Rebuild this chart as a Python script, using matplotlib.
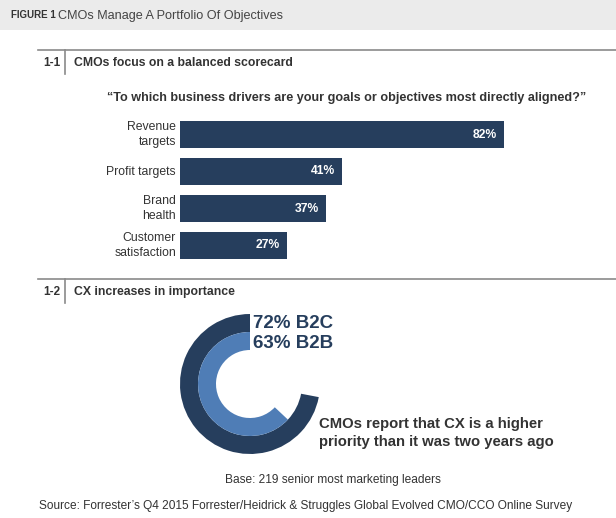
import matplotlib.pyplot as plt

plt.rcParams['font.family'] = ['Liberation Sans', 'DejaVu Sans']

# data
categories = ['Revenue\ntargets', 'Profit targets', 'Brand\nhealth', 'Customer\nsatisfaction']
values = [82, 41, 37, 27]
cx_labels = ['B2C', 'B2B']
cx_values = [72, 63]

NAVY = '#263e5d'
LIGHT = '#4f7db6'
TEXT = '#333333'

W, H = 616, 518
fig = plt.figure(figsize=(W / 100, H / 100), dpi=100)


def px_axes(left, top, width, height):
    return fig.add_axes([left / W, 1 - (top + height) / H, width / W, height / H])


# background axes in pixel coords for text and rules
bg = fig.add_axes([0, 0, 1, 1])
bg.set_xlim(0, W)
bg.set_ylim(H, 0)
bg.axis('off')

bg.add_patch(plt.Rectangle((0, 0), W, 30, color='#ebebeb', lw=0))
bg.text(11, 15.5, 'FIGURE 1', fontsize=7.0, fontweight='bold', color=TEXT, va='center')
bg.text(58, 15.5, 'CMOs Manage A Portfolio Of Objectives', fontsize=9.1, color='#444444', va='center')


def section(y, num, title):
    bg.plot([38, W], [y, y], color='#8a8a8a', lw=1.2)
    bg.plot([65, 65], [y, y + 24], color='#8a8a8a', lw=1.2)
    bg.text(60, y + 13, num, fontsize=8.5, fontweight='bold', color=TEXT, ha='right', va='center')
    bg.text(74, y + 13, title, fontsize=8.8, fontweight='bold', color=TEXT, va='center')


section(50, '1-1', 'CMOs focus on a balanced scorecard')
bg.text(107, 98, '\u201cTo which business drivers are your goals or objectives most directly aligned?\u201d',
        fontsize=9.1, fontweight='bold', color=TEXT, va='center')

section(279, '1-2', 'CX increases in importance')

# bar chart
ax = px_axes(180, 116, 395, 148)
y = range(len(categories))
ax.barh(y, values, height=0.73, color=NAVY)
ax.set_xlim(0, 100)
ax.set_ylim(len(categories) - 0.5, -0.5)
ax.axis('off')
for i, (c, v) in enumerate(zip(categories, values)):
    ax.text(-1.0, i, c, ha='right', va='center', fontsize=8.8, color=TEXT, linespacing=1.3)
    ax.text(v - 1.8, i, f'{v}%', ha='right', va='center', fontsize=8.7,
            fontweight='bold', color='white')

# donut
dx = px_axes(180, 314, 140, 140)
dx.pie([cx_values[0], 100 - cx_values[0]], radius=1, startangle=90, counterclock=True,
       colors=[NAVY, 'none'], wedgeprops=dict(width=18 / 70, lw=0))
dx.pie([cx_values[1], 100 - cx_values[1]], radius=52 / 70, startangle=90, counterclock=True,
       colors=[LIGHT, 'none'], wedgeprops=dict(width=18 / 70, lw=0))
dx.set_xlim(-1, 1)
dx.set_ylim(-1, 1)
dx.set_aspect('equal')
dx.axis('off')

bg.text(253, 323, f'{cx_values[0]}% {cx_labels[0]}', fontsize=13.5, fontweight='bold',
        color=NAVY, va='center')
bg.text(253, 343, f'{cx_values[1]}% {cx_labels[1]}', fontsize=13.5, fontweight='bold',
        color=NAVY, va='center')
bg.text(319, 433, 'CMOs report that CX is a higher\npriority than it was two years ago',
        fontsize=10.7, fontweight='bold', color=TEXT, va='center', linespacing=1.4)

bg.text(333, 480, 'Base: 219 senior most marketing leaders', fontsize=8.6, color=TEXT,
        ha='center', va='center')
bg.text(39, 506, 'Source: Forrester\u2019s Q4 2015 Forrester/Heidrick & Struggles Global Evolved CMO/CCO Online Survey',
        fontsize=8.55, color=TEXT, va='center')

fig.savefig('out.png', dpi=100)
